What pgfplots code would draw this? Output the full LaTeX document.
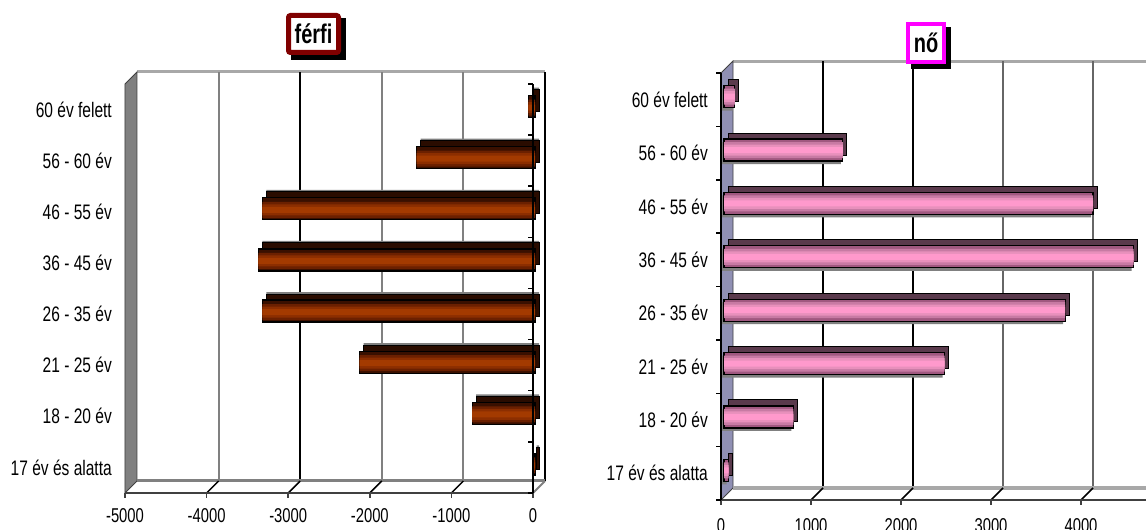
\documentclass[border=0pt]{standalone}
\usepackage{fontspec}
\setmainfont{Liberation Sans}[FakeStretch=0.74]
\usepackage{pgfplots}
\usepackage{pgfplotstable}
\pgfplotsset{compat=1.18}
\definecolor{wallL}{HTML}{808080}
\definecolor{wallR}{HTML}{9090B4}
\definecolor{gridG}{HTML}{808080}
\definecolor{topG}{HTML}{A8A8A8}
\definecolor{axG}{HTML}{404040}
\definecolor{brA}{HTML}{3A1000}
\definecolor{brB}{HTML}{6B2000}
\definecolor{brC}{HTML}{8C2E00}
\definecolor{brD}{HTML}{A33A00}
\definecolor{brBack}{HTML}{2A0C00}
\definecolor{pkA}{HTML}{A05880}
\definecolor{pkB}{HTML}{C87AA4}
\definecolor{pkC}{HTML}{E890BC}
\definecolor{pkD}{HTML}{FF99CC}
\definecolor{pkBack}{HTML}{5A3A4C}
\definecolor{titleRed}{HTML}{800000}
\definecolor{titleMag}{HTML}{FF00FF}

\pgfplotstableread{
y v
0 -30
1 -770
2 -2150
3 -3340
4 -3390
5 -3340
6 -1450
7 -80
}\tabFerfi
\pgfplotstableread{
y v
0 50
1 770
2 2450
3 3790
4 4550
5 4100
6 1320
7 120
}\tabNo

\tikzset{bk/.style={shift={(12pt,12pt)}}}
\pgfplotsset{
  common/.style={
    scale only axis, clip=false,
    ymin=-0.5, ymax=7.5,
    axis line style={draw=none},
    tick style={draw=none},
    major tick length=0pt,
    ytick={0,...,7},
    yticklabels={17 év és alatta, 18 - 20 év, 21 - 25 év, 26 - 35 év, 36 - 45 év, 46 - 55 év, 56 - 60 év, 60 év felett},
    tick label style={font=\fontsize{20}{24}\selectfont},
    yticklabel style={anchor=east, inner sep=0pt, xshift=-13pt, font=\fontsize{21}{24}\selectfont},
  }
}

\begin{document}
\begin{tikzpicture}[x=1pt,y=1pt]
\path[use as bounding box] (0,0) rectangle (1146,530);

% ---------- férfi ----------
\begin{axis}[common,
  at={(125pt,37pt)}, anchor=south west,
  width=408pt, height=409pt,
  xmin=-5000, xmax=0,
  xtick={-5000,-4000,-3000,-2000,-1000,0},
  xticklabels={-5000,-4000,-3000,-2000,-1000,0},
  xticklabel style={anchor=center, yshift=-23pt},
]
% back plane
\draw[topG, line width=3pt] ([bk]axis cs:-5000,7.5) -- ([bk]axis cs:0,7.5);
\draw[gridG, line width=2pt] ([bk]axis cs:-4000,-0.5) -- ([bk]axis cs:-4000,7.5);
\draw[black, line width=2pt] ([bk]axis cs:-3000,-0.5) -- ([bk]axis cs:-3000,7.5);
\draw[gridG, line width=2pt] ([bk]axis cs:-2000,-0.5) -- ([bk]axis cs:-2000,7.5);
\draw[gridG, line width=2pt] ([bk]axis cs:-1000,-0.5) -- ([bk]axis cs:-1000,7.5);
\draw[black, line width=2pt] ([bk]axis cs:0,-0.5) -- ([bk]axis cs:0,7.5);
% wall
\filldraw[fill=wallL, draw=axG, line width=0.8pt] (axis cs:-5000,-0.5) -- (axis cs:-5000,7.5) -- ([bk]axis cs:-5000,7.5) -- ([bk]axis cs:-5000,-0.5) -- cycle;
% floor
\draw[gridG, line width=3pt] ([bk]axis cs:-5000,-0.5) -- ([bk]axis cs:0,-0.5);
\draw[gridG, line width=2pt] (axis cs:0,-0.5) -- ([bk]axis cs:0,-0.5);
\pgfplotsinvokeforeach{-4000,-3000,-2000,-1000}{
  \draw[black, line width=1.5pt] (axis cs:#1,-0.5) -- ([bk]axis cs:#1,-0.5);
}
% bars
\addplot[xbar, bar width=22pt, fill=gridG, draw=none, xshift=6pt, yshift=11pt] table[x=v,y=y]{\tabFerfi};
\addplot[xbar, bar width=22pt, fill=brBack, draw=black, line width=1pt, xshift=6pt, yshift=9pt] table[x=v,y=y]{\tabFerfi};
\addplot[xbar, bar width=22pt, fill=brA, draw=black, line width=1.2pt, xshift=2pt, yshift=3pt] table[x=v,y=y]{\tabFerfi};
\addplot[xbar, bar width=16pt, fill=brB, draw=none, xshift=2pt, yshift=2pt] table[x=v,y=y]{\tabFerfi};
\addplot[xbar, bar width=11pt, fill=brC, draw=none, xshift=2pt, yshift=2pt] table[x=v,y=y]{\tabFerfi};
\addplot[xbar, bar width=6pt, fill=brD, draw=none, xshift=2pt, yshift=2pt] table[x=v,y=y]{\tabFerfi};
% front axes
\draw[axG, line width=2pt] (axis cs:-5000,-0.5) -- (axis cs:0,-0.5);
\pgfplotsinvokeforeach{-5000,-4000,-3000,-2000,-1000,0}{
  \draw[axG, line width=1.5pt] (axis cs:#1,-0.5) -- ++(0pt,-5pt);
}
\draw[black, line width=1.5pt] (axis cs:0,-0.5) -- (axis cs:0,7.5);
\pgfplotsinvokeforeach{-0.5,0.5,1.5,2.5,3.5,4.5,5.5,6.5,7.5}{
  \draw[black, line width=1.5pt] (axis cs:0,#1) -- ++(-5pt,0pt);
}
\end{axis}

% ---------- nő ----------
\begin{axis}[common,
  at={(721pt,30pt)}, anchor=south west,
  width=450pt, height=427pt,
  xmin=0, xmax=5000,
  xtick={0,1000,2000,3000,4000,5000},
  xticklabels={0,1000,2000,3000,4000,5000},
  xticklabel style={anchor=center, yshift=-26pt},
]
\draw[topG, line width=3pt] ([bk]axis cs:0,7.5) -- ([bk]axis cs:5000,7.5);
\draw[black, line width=2pt] ([bk]axis cs:1000,-0.5) -- ([bk]axis cs:1000,7.5);
\draw[black, line width=2pt] ([bk]axis cs:2000,-0.5) -- ([bk]axis cs:2000,7.5);
\draw[axG!80!white, line width=2pt] ([bk]axis cs:3000,-0.5) -- ([bk]axis cs:3000,7.5);
\draw[axG!80!white, line width=2pt] ([bk]axis cs:4000,-0.5) -- ([bk]axis cs:4000,7.5);
\filldraw[fill=wallR, draw=axG, line width=0.8pt] (axis cs:0,-0.5) -- (axis cs:0,7.5) -- ([bk]axis cs:0,7.5) -- ([bk]axis cs:0,-0.5) -- cycle;
\draw[topG, line width=4pt] ([bk]axis cs:0,-0.5) -- ([bk]axis cs:5000,-0.5);
\pgfplotsinvokeforeach{1000,2000,3000,4000}{
  \draw[black, line width=1.5pt] (axis cs:#1,-0.5) -- ([bk]axis cs:#1,-0.5);
}
\addplot[xbar, bar width=22pt, fill=gridG, draw=none, xshift=1pt, yshift=0pt] table[x=v,y=y]{\tabNo};
\addplot[xbar, bar width=22pt, fill=pkBack, draw=black, line width=1pt, xshift=7pt, yshift=9pt] table[x=v,y=y]{\tabNo};
\addplot[xbar, bar width=22pt, fill=pkA, draw=black, line width=1.2pt, xshift=3pt, yshift=3pt] table[x=v,y=y]{\tabNo};
\addplot[xbar, bar width=16pt, fill=pkB, draw=none, xshift=3pt, yshift=3pt] table[x=v,y=y]{\tabNo};
\addplot[xbar, bar width=11pt, fill=pkC, draw=none, xshift=3pt, yshift=3pt] table[x=v,y=y]{\tabNo};
\addplot[xbar, bar width=6pt, fill=pkD, draw=none, xshift=3pt, yshift=3pt] table[x=v,y=y]{\tabNo};
\draw[axG, line width=2.5pt] (axis cs:0,-0.5) -- (axis cs:5000,-0.5);
\pgfplotsinvokeforeach{0,1000,2000,3000,4000}{
  \draw[axG, line width=1.5pt] (axis cs:#1,-0.5) -- ++(0pt,-5pt);
}
\draw[black, line width=1.5pt] (axis cs:0,-0.5) -- (axis cs:0,7.5);
\pgfplotsinvokeforeach{-0.5,0.5,1.5,2.5,3.5,4.5,5.5,6.5,7.5}{
  \draw[black, line width=1.5pt] (axis cs:0,#1) -- ++(-5pt,0pt);
}
\end{axis}

% ---------- titles ----------
\fill[black] (291,470) rectangle (346,512);
\node[draw=titleRed, line width=5pt, fill=white, rounded corners=2pt, minimum width=50pt, minimum height=37pt, inner sep=0pt, font=\bfseries\fontsize{27}{30}\selectfont] at (313.5,496) {férfi};
\fill[black] (911,461) rectangle (951,503);
\node[draw=titleMag, line width=4pt, fill=white, minimum width=36pt, minimum height=38pt, inner sep=0pt, font=\bfseries\fontsize{27}{30}\selectfont] at (926,487) {nő};
\end{tikzpicture}
\end{document}
